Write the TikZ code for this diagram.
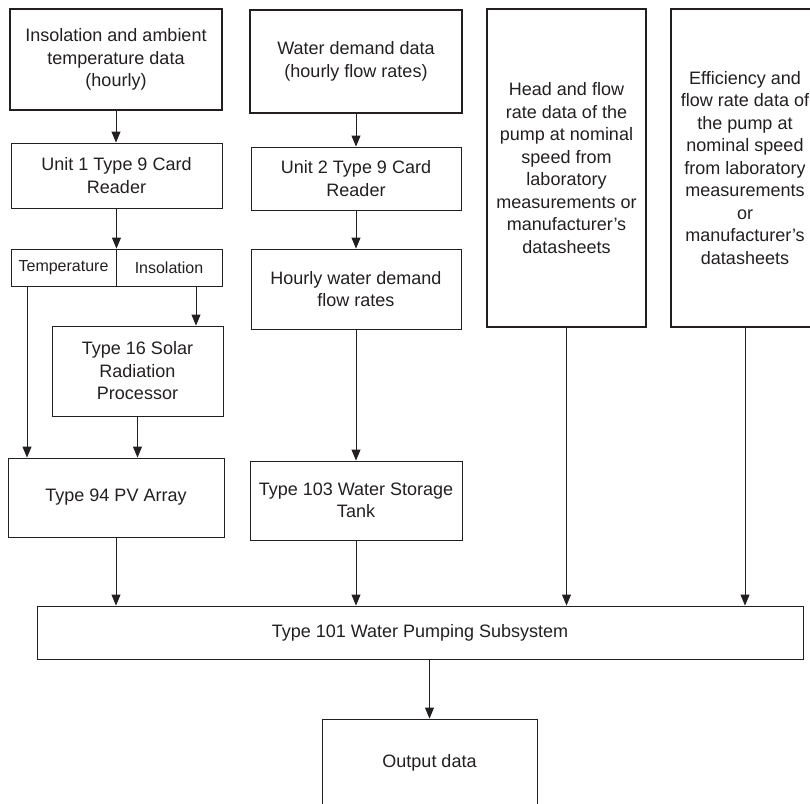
\documentclass[tikz,border=0pt]{standalone}
\usepackage{fontspec}
\setmainfont{Liberation Sans}
\usepackage{tikz}
\usetikzlibrary{positioning, arrows.meta, calc}
\definecolor{ink}{RGB}{35,31,32}

\begin{document}
\begin{tikzpicture}[x=1pt, y=-1pt, >={Triangle[width=9pt,length=11pt]}]
    % Stili
    \tikzstyle{block} = [draw=ink, rectangle, line width=0.9pt, inner sep=0pt, align=center, text=ink, font=\fontsize{18}{22.5}\selectfont]
    \tikzstyle{datablock} = [block, line width=2.8pt]
    \tikzstyle{split} = [block, font=\fontsize{16}{20}\selectfont]
    \tikzstyle{link} = [->, draw=ink, fill=ink, line width=0.9pt]

    \useasboundingbox (0,0) rectangle (810,803);

    % Nodi
    \node [datablock, minimum width=212, minimum height=101] (ins) at (116,59.5) {Insolation and ambient\\temperature data\\(hourly)};
    \node [datablock, minimum width=212, minimum height=103] (wd) at (356,61.5) {Water demand data\\(hourly flow rates)};
    \node [datablock, minimum width=159, minimum height=318] (head) at (566.5,168) {Head and flow\\rate data of the\\pump at nominal\\speed from\\laboratory\\measurements or\\manufacturer’s\\datasheets};
    \node [datablock, minimum width=148, minimum height=318] (eff) at (745,168) {Efficiency and\\flow rate data of\\the pump at\\nominal speed\\from laboratory\\measurements\\or\\manufacturer’s\\datasheets};
    \node [block, minimum width=211, minimum height=65] (cr1) at (116.5,175.5) {Unit 1 Type 9 Card\\Reader};
    \node [block, minimum width=210, minimum height=63] (cr2) at (356,178.5) {Unit 2 Type 9 Card\\Reader};
    \node [split, minimum width=105, minimum height=37] (temp) at (63.5,267.5) {Temperature};
    \node [split, minimum width=106, minimum height=37] (insl) at (169,267.5) {Insolation};
    \node [block, minimum width=171, minimum height=90] (solar) at (137.5,371) {Type 16 Solar\\Radiation\\Processor};
    \node [block, minimum width=210, minimum height=80] (hwd) at (356,289) {Hourly water demand\\flow rates};
    \node [block, minimum width=216, minimum height=79] (pv) at (116,497.5) {Type 94 PV Array};
    \node [block, minimum width=212, minimum height=79] (tank) at (356,500.5) {Type 103 Water Storage\\Tank};
    \node [block, minimum width=766, minimum height=53] (pump) at (420,632.5) {Type 101 Water Pumping Subsystem};
    \node [block, minimum width=215, minimum height=88] (out) at (429.5,763) {Output data};

    % Collegamenti
    \draw [link] (ins.south) -- (ins.south |- cr1.north);
    \draw [link] (temp.north east |- cr1.south) -- (temp.north east);
    \draw [link] ([xshift=27pt]insl.south) -- ([xshift=27pt]insl.south |- solar.north);
    \draw [link] ([xshift=-36.5pt]temp.south) -- ([xshift=-36.5pt]temp.south |- pv.north);
    \draw [link] (solar.south) -- (solar.south |- pv.north);
    \draw [link] (wd.south) -- (cr2.north);
    \draw [link] (cr2.south) -- (hwd.north);
    \draw [link] (hwd.south) -- (tank.north);
    \draw [link] (pv.south) -- (pv.south |- pump.north);
    \draw [link] (tank.south) -- (tank.south |- pump.north);
    \draw [link] (head.south) -- (head.south |- pump.north);
    \draw [link] (eff.south) -- (eff.south |- pump.north);
    \draw [link] (out.north |- pump.south) -- (out.north);
\end{tikzpicture}
\end{document}
